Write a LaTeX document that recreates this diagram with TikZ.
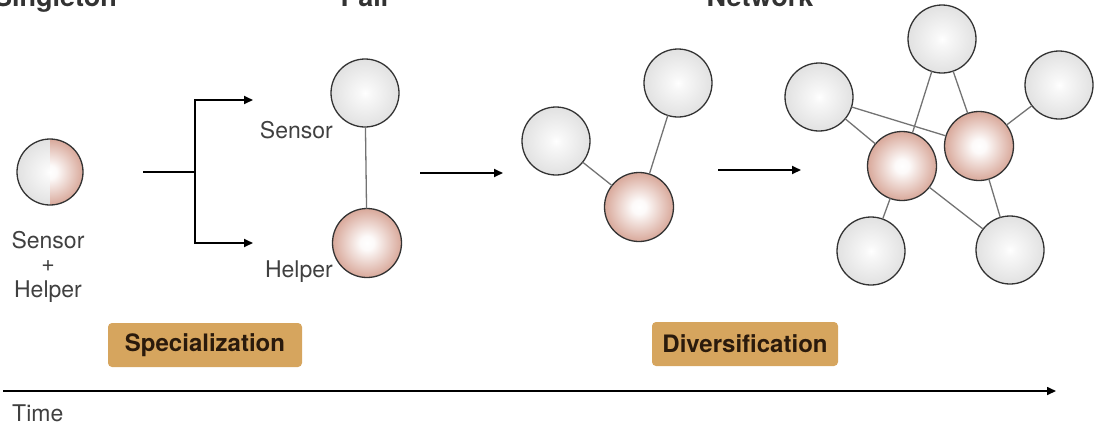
\documentclass[tikz,border=0pt]{standalone}
\usepackage{fontspec}
\setmainfont{TeX Gyre Heros}
\usetikzlibrary{arrows.meta}
\definecolor{phasetan}{HTML}{D6A55E}
\definecolor{phasetext}{HTML}{2A1A0C}
\definecolor{gmid}{HTML}{DCDCDC}
\definecolor{gedge}{HTML}{A9A9A9}
\definecolor{rmid}{HTML}{D39C8C}
\definecolor{redge}{HTML}{A45A4A}
\pgfdeclareradialshading{graysph}{\pgfpoint{0bp}{0bp}}{color(0bp)=(white); color(5bp)=(white!97!black); color(30bp)=(gmid); color(50bp)=(gedge)}
\pgfdeclareradialshading{redsph}{\pgfpoint{0bp}{0bp}}{color(0bp)=(white); color(5bp)=(white!95!rmid); color(28bp)=(rmid); color(50bp)=(redge)}
\begin{document}
\begin{tikzpicture}[x=1pt,y=-1pt,
  sph/.style={circle, draw=black!80, line width=1.3pt, minimum size=#1, inner sep=0pt, outer sep=0pt},
  gsph/.style={sph=68pt, shading=graysph},
  rsph/.style={sph=69pt, shading=redsph},
  lbl/.style={font=\fontsize{23}{26}\selectfont, text=black!75, inner sep=0pt},
  title/.style={font=\fontsize{27}{30}\selectfont\bfseries, text=black!80, inner sep=0pt},
  phase/.style={fill=phasetan, rounded corners=4pt, font=\fontsize{24}{28}\selectfont\bfseries, text=phasetext, minimum height=44pt, inner sep=0pt},
  arr/.style={line width=1.8pt, line join=miter, -{Triangle[length=9pt,width=8pt]}},
  link/.style={draw=black!55, line width=1.3pt},
]
\useasboundingbox (0,0) rectangle (1097,429);
\clip (0,0) rectangle (1097,429);

% titles (cut off at top, as in the reference)
\node[title, anchor=base east] (t1) at (117,6) {Singleton};
\node[title, anchor=base] (t2) at (366,6) {Pair};
\node[title, anchor=base] (t3) at (760,6) {Network};

% singleton
\shade[shading=graysph] (50,172) circle (33);
\begin{scope}
  \clip (50,130) rectangle (90,215);
  \shade[shading=redsph] (50,172) circle (33);
\end{scope}
\node[sph=66pt] (single) at (50,172) {};
\node[lbl] (sl1) at (48,240) {Sensor};
\node[lbl] (sl2) at (48,266) {+};
\node[lbl] (sl3) at (48,292) {Helper};

% bracket
\coordinate (b0) at (143,172);
\coordinate (bj) at (195,172);
\coordinate (bt) at (195,100);
\coordinate (bb) at (195,243);
\coordinate (bta) at (253,100);
\coordinate (bba) at (253,243);
\draw[line width=1.8pt] (b0) -- (bj);
\draw[arr] (bj) -- (bt) -- (bta);
\draw[arr] (bj) -- (bb) -- (bba);

% pair
\node[gsph] (ps) at (365,93) {};
\node[rsph] (ph) at (367,243) {};
\draw[link] (ps) -- (ph);
\node[lbl, anchor=east] (psl) at (333,130) {Sensor};
\node[lbl, anchor=east] (phl) at (333,272) {Helper};

% arrow 1
\coordinate (a1s) at (420,173);
\coordinate (a1e) at (503,173);
\draw[arr] (a1s) -- (a1e);

% triad
\node[gsph] (m1) at (556,141) {};
\node[gsph] (m2) at (678,83) {};
\node[rsph] (mr) at (639,207) {};
\draw[link] (m1) -- (mr);
\draw[link] (m2) -- (mr);

% arrow 2
\coordinate (a2s) at (718,170);
\coordinate (a2e) at (801,170);
\draw[arr] (a2s) -- (a2e);

% network
\node[gsph] (nt) at (942,39) {};
\node[gsph] (nl) at (819,97) {};
\node[gsph] (nr) at (1059,85) {};
\node[gsph] (nbl) at (871,251) {};
\node[gsph] (nbr) at (1010,250) {};
\node[rsph] (r1) at (902,166) {};
\node[rsph] (r2) at (979,146) {};
\draw[link] (nt) -- (r1);
\draw[link] (nt) -- (r2);
\draw[link] (nl) -- (r1);
\draw[link] (nl) -- (r2);
\draw[link] (nr) -- (r2);
\draw[link] (r1) -- (nbl);
\draw[link] (r1) -- (nbr);
\draw[link] (r2) -- (nbr);

% phase boxes
\node[phase, minimum width=194pt] (spec) at (205,345) {Specialization};
\node[phase, minimum width=186pt] (div) at (745,344) {Diversification};

% time axis
\coordinate (ax0) at (3,391);
\coordinate (ax1) at (1056,391);
\draw[arr, line width=1.6pt] (ax0) -- (ax1);
\node[lbl, anchor=west] (time) at (12,413) {Time};
\end{tikzpicture}
\end{document}
